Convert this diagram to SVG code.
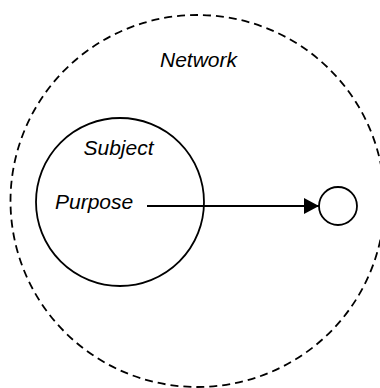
<svg xmlns="http://www.w3.org/2000/svg" width="380" height="388" viewBox="0 0 380 388">
<style>
  .lbl { font-family: "Liberation Sans", Arial, sans-serif; font-style: italic; font-size: 21px; fill: #000; }
  .shape { fill: #fff; stroke: #000; stroke-width: 1.8; }
</style>
<defs>
  <marker id="arrow" markerWidth="18" markerHeight="18" refX="15" refY="8" orient="auto" markerUnits="userSpaceOnUse">
    <path d="M0,0 L15,8 L0,16 Z" fill="#000"/>
  </marker>
</defs>
<rect width="380" height="388" fill="#fff"/>
<g id="network">
  <ellipse cx="197.5" cy="201" rx="187" ry="186" fill="none" stroke="#000" stroke-width="1.8" stroke-dasharray="8,5"/>
  <text class="lbl" x="160" y="67">Network</text>
</g>
<g id="subject">
  <circle class="shape" cx="120" cy="202" r="84"/>
  <text class="lbl" x="83.5" y="155">Subject</text>
  <text class="lbl" x="55" y="209">Purpose</text>
</g>
<g id="target">
  <circle class="shape" cx="338" cy="206" r="19"/>
</g>
<g id="connectors">
  <line x1="147" y1="206" x2="319" y2="206" stroke="#000" stroke-width="1.8" marker-end="url(#arrow)"/>
</g>
</svg>
